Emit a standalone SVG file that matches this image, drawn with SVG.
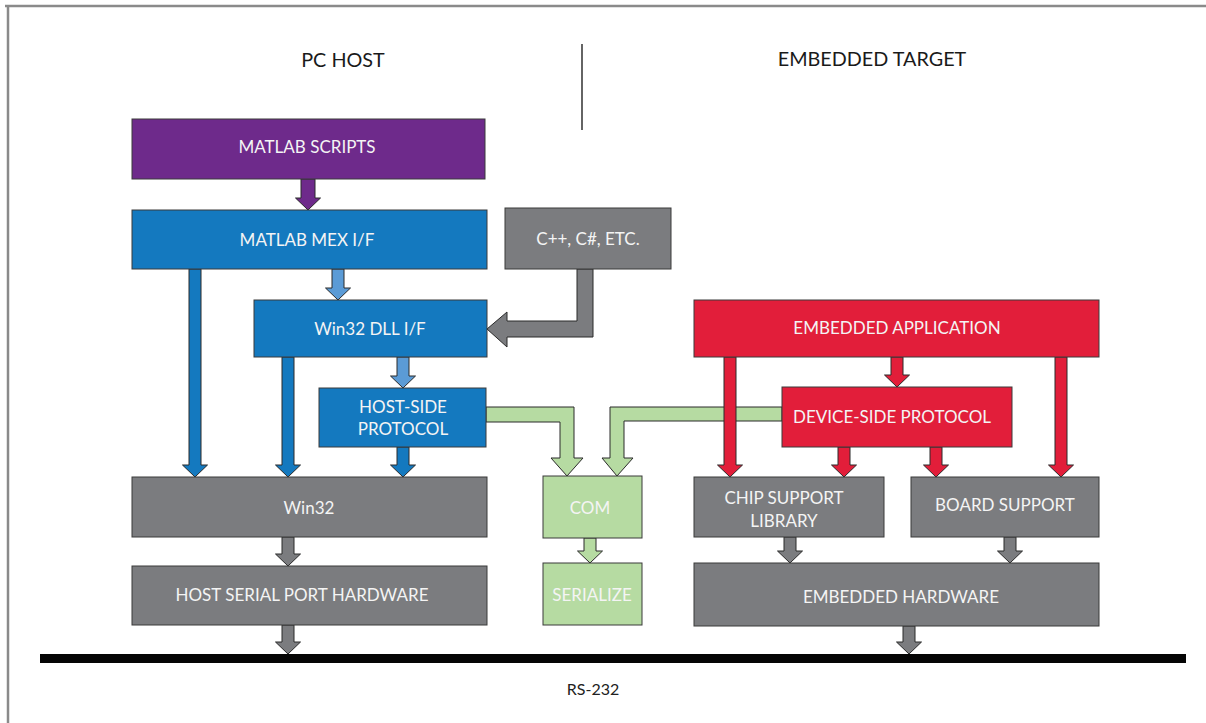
<svg xmlns="http://www.w3.org/2000/svg" width="1206" height="723" viewBox="0 0 1206 723">
<style>
.box{stroke:#3a3a3a;stroke-width:1}
.arr{stroke:#2a2a2a;stroke-width:1;stroke-linejoin:miter}
.purple{fill:#6e2a8b}
.blue{fill:#1479bf}
.lblue{fill:#5b9bd6}
.gray{fill:#7b7c7f}
.red{fill:#e21e3a}
.green{fill:#b6dba2}
text{font-family:Lato,"Open Sans","Liberation Sans",sans-serif}
.lbl{font-size:17px;fill:#f4f4f4;text-anchor:middle}
.hdr{font-size:19.8px;fill:#1a1a1a;text-anchor:middle}
</style>
<rect width="1206" height="723" fill="#ffffff"/>
<g id="frame">
<line x1="5" y1="6" x2="1206" y2="6" stroke="#8a8a8a" stroke-width="2.5"/>
<line x1="8" y1="6" x2="8" y2="723" stroke="#8a8a8a" stroke-width="2.5"/>
<line x1="582" y1="44" x2="582" y2="130" stroke="#111" stroke-width="1.3"/>
</g>
<g id="headers">
<text class="hdr" x="343" y="67">PC HOST</text>
<text class="hdr" x="872" y="66">EMBEDDED TARGET</text>
</g>
<g id="bus">
<rect x="40" y="654" width="1146" height="9" fill="#050505"/>
<text x="593" y="695" font-size="16" fill="#222" text-anchor="middle">RS-232</text>
</g>
<g id="connectors">
<polygon class="arr green" points="486,407 574,407 574,458 583,458 567,476 551,458 560,458 560,422 486,422"/>
<polygon class="arr green" points="782,407 610,407 610,458 602,458 617,476 633,458 624,458 624,421 782,421"/>
<polygon class="arr purple" points="301,179 315,179 315,198 320.5,198 308,210 295.5,198 301,198"/>
<polygon class="arr lblue" points="332,269 344,269 344,288 350.5,288 338,300 325.5,288 332,288"/>
<polygon class="arr lblue" points="397,357 409,357 409,376 415.5,376 403,388 390.5,376 397,376"/>
<polygon class="arr blue" points="189,269 201,269 201,465 207.5,465 195,477 182.5,465 189,465"/>
<polygon class="arr blue" points="282,357 294,357 294,465 300.5,465 288,477 275.5,465 282,465"/>
<polygon class="arr blue" points="397,447 409,447 409,465 415.5,465 403,477 390.5,465 397,465"/>
<polygon class="arr gray" points="577,269 593,269 593,337 507,337 507,347 487,329 507,312 507,321 577,321"/>
<polygon class="arr gray" points="282,537 294,537 294,554 300.5,554 288,566 275.5,554 282,554"/>
<polygon class="arr gray" points="282,625 294,625 294,642 300.5,642 288,654 275.5,642 282,642"/>
<polygon class="arr gray" points="784,537 796,537 796,551 802.5,551 790,563 777.5,551 784,551"/>
<polygon class="arr gray" points="1004,537 1016,537 1016,551 1022.5,551 1010,563 997.5,551 1004,551"/>
<polygon class="arr gray" points="903,626 915,626 915,642 921.5,642 909,654 896.5,642 903,642"/>
<polygon class="arr green" points="584,538 596,538 596,551 602.5,551 590,563 577.5,551 584,551"/>
<polygon class="arr red" points="724,357 736,357 736,465 742.5,465 730,477 717.5,465 724,465"/>
<polygon class="arr red" points="891,357 903,357 903,375 909.5,375 897,387 884.5,375 891,375"/>
<polygon class="arr red" points="1055,357 1067,357 1067,465 1073.5,465 1061,477 1048.5,465 1055,465"/>
<polygon class="arr red" points="838,447 850,447 850,465 856.5,465 844,477 831.5,465 838,465"/>
<polygon class="arr red" points="930,447 942,447 942,465 948.5,465 936,477 923.5,465 930,465"/>
</g>
<g id="matlab-scripts">
<rect class="box purple" x="132" y="119" width="353" height="60"/>
<text class="lbl" x="307" y="153">MATLAB SCRIPTS</text>
</g>
<g id="matlab-mex">
<rect class="box blue" x="132" y="210" width="355" height="59"/>
<text class="lbl" x="307" y="246">MATLAB MEX I/F</text>
</g>
<g id="cpp">
<rect class="box gray" x="505" y="208" width="166" height="61"/>
<text class="lbl" x="588" y="245">C++, C#, ETC.</text>
</g>
<g id="win32-dll">
<rect class="box blue" x="254" y="300" width="233" height="57"/>
<text class="lbl" x="370" y="335">Win32 DLL I/F</text>
</g>
<g id="host-side">
<rect class="box blue" x="319" y="388" width="167" height="59"/>
<text class="lbl" x="403" y="413">HOST-SIDE</text>
<text class="lbl" x="403" y="435">PROTOCOL</text>
</g>
<g id="win32">
<rect class="box gray" x="132" y="477" width="355" height="60"/>
<text class="lbl" x="309" y="514">Win32</text>
</g>
<g id="host-serial">
<rect class="box gray" x="132" y="566" width="355" height="59"/>
<text class="lbl" x="302" y="601">HOST SERIAL PORT HARDWARE</text>
</g>
<g id="com">
<rect class="box green" x="543" y="476" width="99" height="62"/>
<text class="lbl" x="590" y="514">COM</text>
</g>
<g id="serialize">
<rect class="box green" x="543" y="563" width="99" height="62"/>
<text class="lbl" x="592" y="601">SERIALIZE</text>
</g>
<g id="embedded-app">
<rect class="box red" x="694" y="300" width="405" height="57"/>
<text class="lbl" x="897" y="334">EMBEDDED APPLICATION</text>
</g>
<g id="device-side">
<rect class="box red" x="782" y="387" width="230" height="60"/>
<text class="lbl" x="892" y="423">DEVICE-SIDE PROTOCOL</text>
</g>
<g id="chip-support">
<rect class="box gray" x="694" y="477" width="190" height="60"/>
<text class="lbl" x="784" y="504">CHIP SUPPORT</text>
<text class="lbl" x="784" y="527">LIBRARY</text>
</g>
<g id="board-support">
<rect class="box gray" x="911" y="477" width="188" height="60"/>
<text class="lbl" x="1005" y="511">BOARD SUPPORT</text>
</g>
<g id="embedded-hw">
<rect class="box gray" x="694" y="563" width="405" height="63"/>
<text class="lbl" x="901" y="603">EMBEDDED HARDWARE</text>
</g>
</svg>
